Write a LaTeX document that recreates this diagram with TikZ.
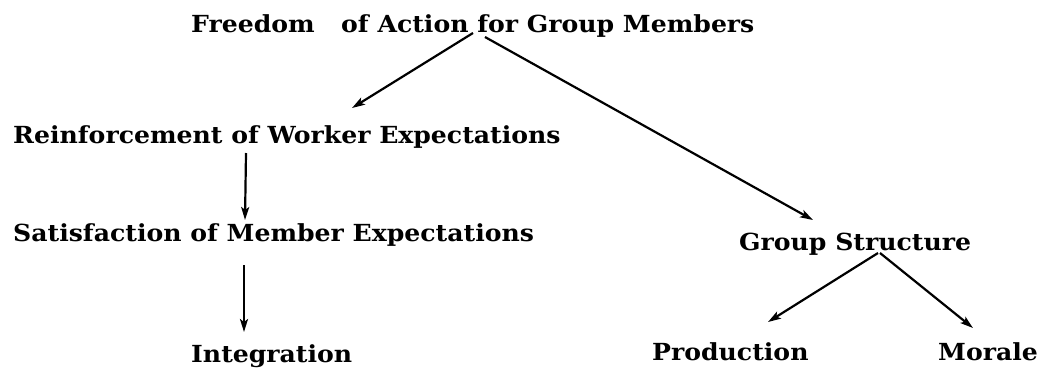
\documentclass[tikz,border=0pt]{standalone}
\usepackage{fontspec}
\setmainfont{DejaVu Serif}[BoldFont={DejaVu Serif Bold},BoldFeatures={FakeStretch=1.07}]
\usetikzlibrary{arrows.meta,calc}
\begin{document}
\begin{tikzpicture}[x=1pt,y=-1pt,
    label/.style={anchor=base west,inner sep=0pt,font=\fontsize{23.5}{26}\selectfont\bfseries},
    arr/.style={line width=2.2pt,-{Stealth[length=13pt,width=8pt,inset=3pt]}}]
  \useasboundingbox (0,0) rectangle (1046,368);

  % statements of the model
  \node[label] (free)  at (191,32)  {Freedom\hspace{0.75em} of Action for Group Members};
  \node[label] (rein)  at (13,143)  {Reinforcement of Worker Expectations};
  \node[label] (sat)   at (13,241)  {Satisfaction of Member Expectations};
  \node[label] (integ) at (191,362) {Integration};
  \node[label] (grp)   at (739,250) {Group Structure};
  \node[label] (prod)  at (652,360) {Production};
  \node[label] (mor)   at (938,360) {Morale};

  % left branch
  \draw[arr] ($(free.base west)+(282,1)$) -- ($(rein.base west)+(339,-35)$);
  \draw[arr] ($(rein.base west)+(233,10)$) -- ($(sat.base west)+(232,-21)$);
  \draw[arr] ($(sat.base west)+(231,24)$) -- ($(integ.base west)+(53,-30)$);

  % right branch
  \draw[arr] ($(free.base west)+(294,5)$) -- ($(grp.base west)+(74,-30)$);
  \draw[arr] ($(grp.base west)+(139,3)$) -- ($(prod.base west)+(116,-38)$);
  \draw[arr] ($(grp.base west)+(141,3)$) -- ($(mor.base west)+(35,-32)$);
\end{tikzpicture}
\end{document}
